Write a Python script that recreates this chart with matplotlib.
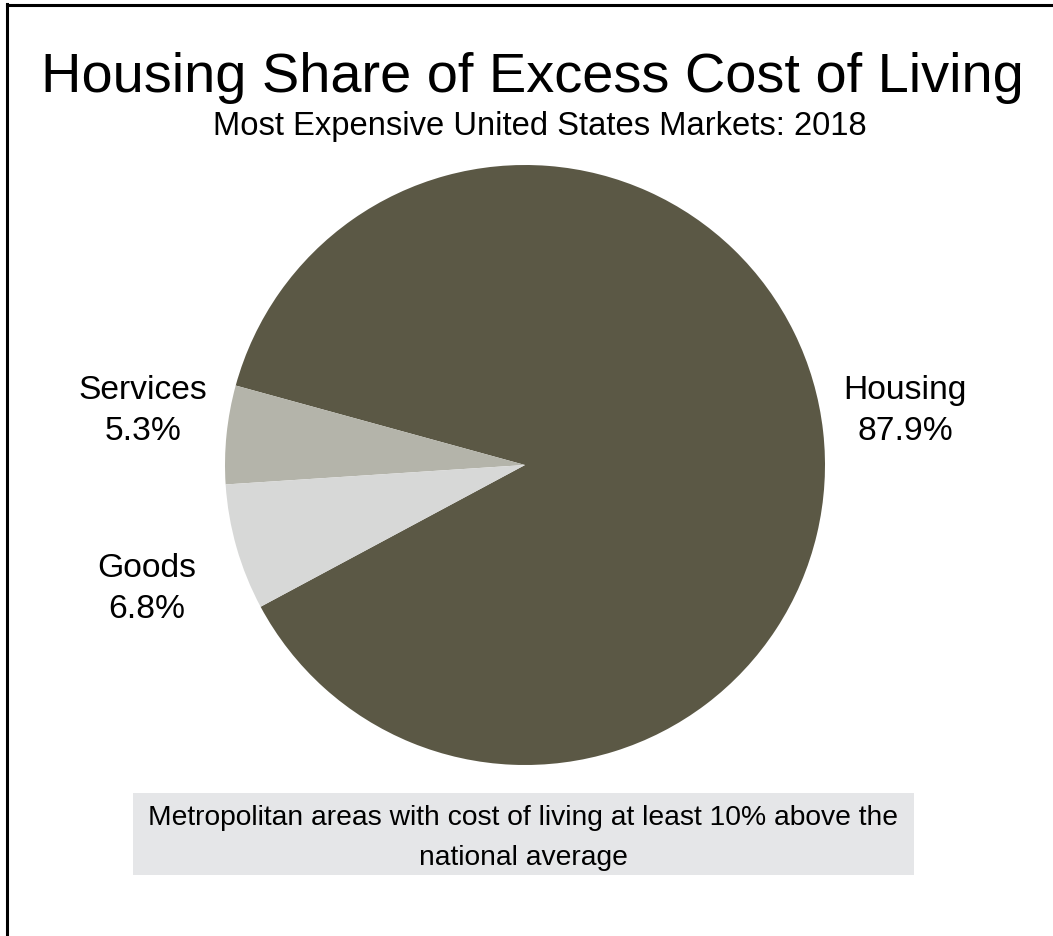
import matplotlib.pyplot as plt
from matplotlib.patches import Rectangle
from matplotlib.lines import Line2D

plt.rcParams['font.family'] = ['Liberation Sans', 'DejaVu Sans']

categories = ['Housing', 'Services', 'Goods']
shares = [87.9, 5.3, 6.8]
colors = ['#5b5845', '#b4b4aa', '#d7d8d7']

title = 'Housing Share of Excess Cost of Living'
subtitle = 'Most Expensive United States Markets: 2018'
note = 'Metropolitan areas with cost of living at least 10% above the\nnational average'

W, H = 1053, 937
fig = plt.figure(figsize=(W / 100, H / 100), dpi=100)


def px(x, y):
    # pixel (from top-left) to figure fraction
    return x / W, 1 - y / H


# frame: only left and top edges are visible
fig.add_artist(Line2D([6.5 / W, 6.5 / W], [1 - 5 / H, 0], transform=fig.transFigure,
                      color='black', lw=2.2, solid_capstyle='projecting'))
fig.add_artist(Line2D([6.5 / W, 1], [1 - 5.5 / H, 1 - 5.5 / H], transform=fig.transFigure,
                      color='black', lw=2.2, solid_capstyle='projecting'))

fig.text(*px(532, 78), title, ha='center', va='center', fontsize=40.3)
fig.text(*px(540, 127), subtitle, ha='center', va='center', fontsize=23.6)

# pie: centre at (525, 466) px, radius 300 px
cx, cy, r = 525, 466, 300
ax = fig.add_axes([(cx - r) / W, 1 - (cy + r) / H, 2 * r / W, 2 * r / H])
wedges, _ = ax.pie(shares, colors=colors, startangle=208.2, counterclock=True,
                   radius=1, wedgeprops=dict(linewidth=0))
ax.set_xlim(-1, 1)
ax.set_ylim(-1, 1)
ax.set_aspect('equal')
ax.axis('off')

# label positions in pixels
label_pos = [(905, 411), (143, 411), (147, 589)]
for name, val, (lx, ly) in zip(categories, shares, label_pos):
    fig.text(*px(lx, ly), f'{name}\n{val:.1f}%', ha='center', va='center',
             multialignment='center', fontsize=24.2, linespacing=1.45)

# footnote box
x0, y0 = px(133, 876)
x1, y1 = px(914, 794)
fig.add_artist(Rectangle((x0, y0), x1 - x0, y1 - y0, transform=fig.transFigure,
                         facecolor='#e5e6e8', edgecolor='none'))
fig.text(*px(523, 838), note, ha='center', va='center', multialignment='center',
         fontsize=20.3, linespacing=1.7)

fig.savefig('out.png', dpi=100)
